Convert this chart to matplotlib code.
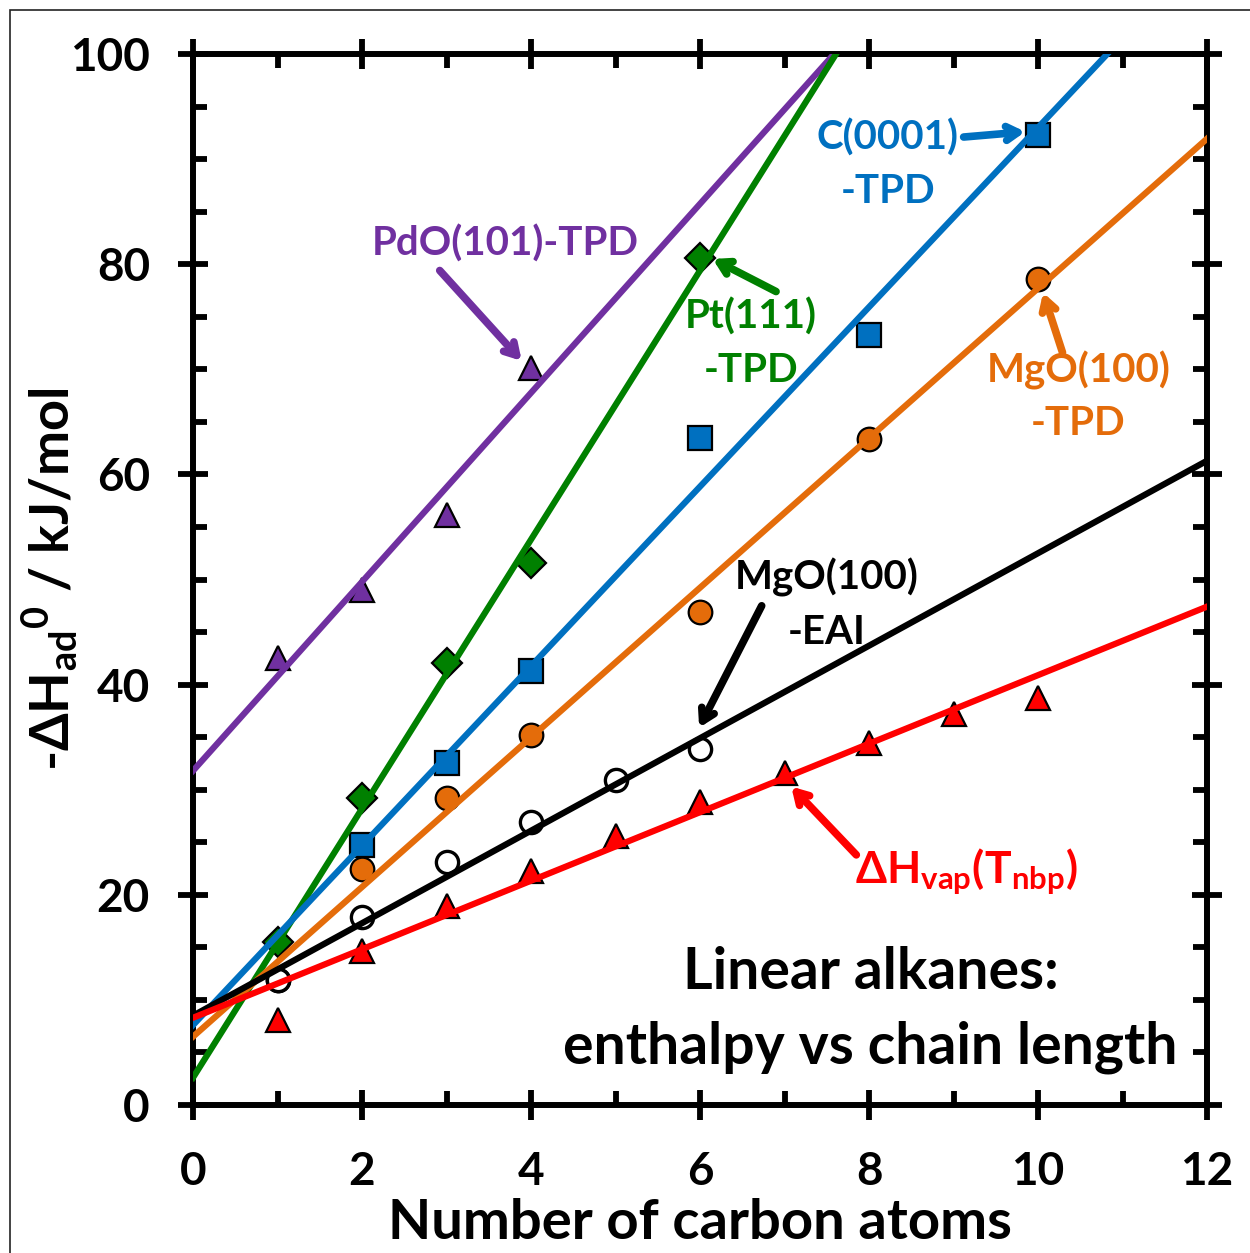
import numpy as np
import matplotlib
matplotlib.use("Agg")
import matplotlib.pyplot as plt
from matplotlib.patches import Rectangle

plt.rcParams['font.family'] = ['Lato', 'DejaVu Sans']
plt.rcParams['font.weight'] = 'bold'
plt.rcParams['mathtext.fontset'] = 'custom'
plt.rcParams['mathtext.rm'] = 'Lato:bold'
plt.rcParams['mathtext.it'] = 'Lato:bold'
plt.rcParams['mathtext.bf'] = 'Lato:bold'

# measured enthalpies (kJ/mol) vs number of carbon atoms
pdo_n = [1, 2, 3, 4]
pdo_h = [42.5, 49.0, 56.1, 70.1]

pt_n = [1, 2, 3, 4, 6]
pt_h = [15.5, 29.2, 42.1, 51.6, 80.6]

c_n = [2, 3, 4, 6, 8, 10]
c_h = [24.7, 32.5, 41.3, 63.5, 73.3, 92.3]

mgo_tpd_n = [1, 2, 3, 4, 6, 8, 10]
mgo_tpd_h = [11.9, 22.5, 29.2, 35.2, 46.9, 63.4, 78.6]

mgo_eai_n = [1, 2, 3, 4, 5, 6]
mgo_eai_h = [11.9, 17.9, 23.1, 26.9, 30.9, 33.9]

vap_n = [1, 2, 3, 4, 5, 6, 7, 8, 9, 10]
vap_h = [8.1, 14.7, 18.9, 22.3, 25.6, 28.8, 31.6, 34.4, 37.2, 38.7]

# linear fits (intercept, slope)
fit_pdo = (31.8, 8.99)
fit_pt = (2.6, 12.8)
fit_c = (7.6, 8.54)
fit_mgo_tpd = (6.5, 7.12)
fit_mgo_eai = (8.5, 4.40)
fit_vap = (8.3, 3.26)

purple = "#7030A0"
green = "#008000"
blue = "#0070C0"
orange = "#E46C0A"
red = "#FF0000"

fig = plt.figure(figsize=(12.5, 12.53), dpi=100)
ax = fig.add_axes([0.1544, 0.1181, 0.8112, 0.8388])

xx = np.linspace(0, 12, 200)
series = [
    (pdo_n, pdo_h, fit_pdo, purple, "^", purple, 17, 1.6),
    (pt_n, pt_h, fit_pt, green, "D", green, 15, 1.6),
    (c_n, c_h, fit_c, blue, "s", blue, 17, 1.6),
    (mgo_tpd_n, mgo_tpd_h, fit_mgo_tpd, orange, "o", orange, 17, 1.6),
    (mgo_eai_n, mgo_eai_h, fit_mgo_eai, "black", "o", "white", 16, 2.4),
    (vap_n, vap_h, fit_vap, red, "^", red, 17, 1.6),
]
for n, h, fit, col, mk, fc, ms, mew in series:
    ax.plot(n, h, linestyle="none", marker=mk, markersize=ms, markerfacecolor=fc,
            markeredgecolor="black", markeredgewidth=mew, zorder=2, clip_on=False)
    ax.plot(xx, fit[0] + fit[1] * xx, color=col, lw=4.5, zorder=3)

ax.set_xlim(0, 12)
ax.set_ylim(0, 100)
ax.set_xticks(np.arange(0, 13, 2))
ax.set_xticks(np.arange(1, 12, 2), minor=True)
ax.set_yticks(np.arange(0, 101, 20))
ax.set_yticks(np.arange(5, 100, 5), minor=True)
ax.tick_params(which="major", direction="inout", length=22, width=4.2,
               top=True, right=True, labelsize=33)
ax.tick_params(axis="x", which="major", pad=22)
ax.tick_params(axis="y", which="major", pad=20)
ax.tick_params(which="minor", direction="in", length=10, width=4.2,
               top=True, right=True)
for s in ax.spines.values():
    s.set_linewidth(4.3)
for t in ax.get_xticklabels() + ax.get_yticklabels():
    t.set_fontweight("bold")

ax.set_xlabel("Number of carbon atoms", fontsize=40.5, fontweight="bold", labelpad=4)
ax.set_ylabel(r"-ΔH$_{\mathregular{ad}}$$^{\mathregular{0}}$ / kJ/mol",
              fontsize=39, fontweight="bold", labelpad=-8)

ARROW = "->,head_length=0.85,head_width=0.5"

def lab(text, xy, col, size=29):
    ax.text(xy[0], xy[1], text, color=col, fontsize=size, fontweight="bold",
            ha="center", va="center")

def arrow(tip, tail, col):
    ax.annotate("", xy=tip, xytext=tail,
                arrowprops=dict(arrowstyle=ARROW, color=col, lw=5.5,
                                shrinkA=0, shrinkB=0))

# PdO(101)
lab("PdO(101)-TPD", (3.69, 82.0), purple)
arrow((3.89, 70.8), (2.92, 79.4), purple)
# Pt(111)
lab("Pt(111)", (6.6, 75.0), green)
lab("-TPD", (6.6, 69.9), green)
arrow((6.15, 80.5), (6.9, 77.4), green)
# C(0001)
lab("C(0001)", (8.22, 92.0), blue)
lab("-TPD", (8.22, 86.9), blue)
arrow((9.85, 92.6), (9.12, 92.1), blue)
# MgO(100)-TPD
lab("MgO(100)", (10.48, 69.9), orange)
lab("-TPD", (10.48, 64.8), orange)
arrow((10.06, 77.3), (10.29, 71.6), orange)
# MgO(100)-EAI
lab("MgO(100)", (7.5, 50.2), "black")
lab("-EAI", (7.5, 45.0), "black")
arrow((5.99, 35.9), (6.73, 47.5), "black")
# dH vap
lab(r"ΔH$_{\mathregular{vap}}$(T$_{\mathregular{nbp}}$)", (9.15, 22.2), red, size=32)
arrow((7.08, 30.3), (7.85, 23.8), red)

lab("Linear alkanes:", (8.02, 12.6), "black", size=41)
lab("enthalpy vs chain length", (8.02, 5.5), "black", size=41)

fig.add_artist(Rectangle((0.008, -0.5), 2.0, 0.992 + 0.5, transform=fig.transFigure,
                         fill=False, edgecolor="#222222", linewidth=1.2))

fig.savefig("out.png", dpi=100)
